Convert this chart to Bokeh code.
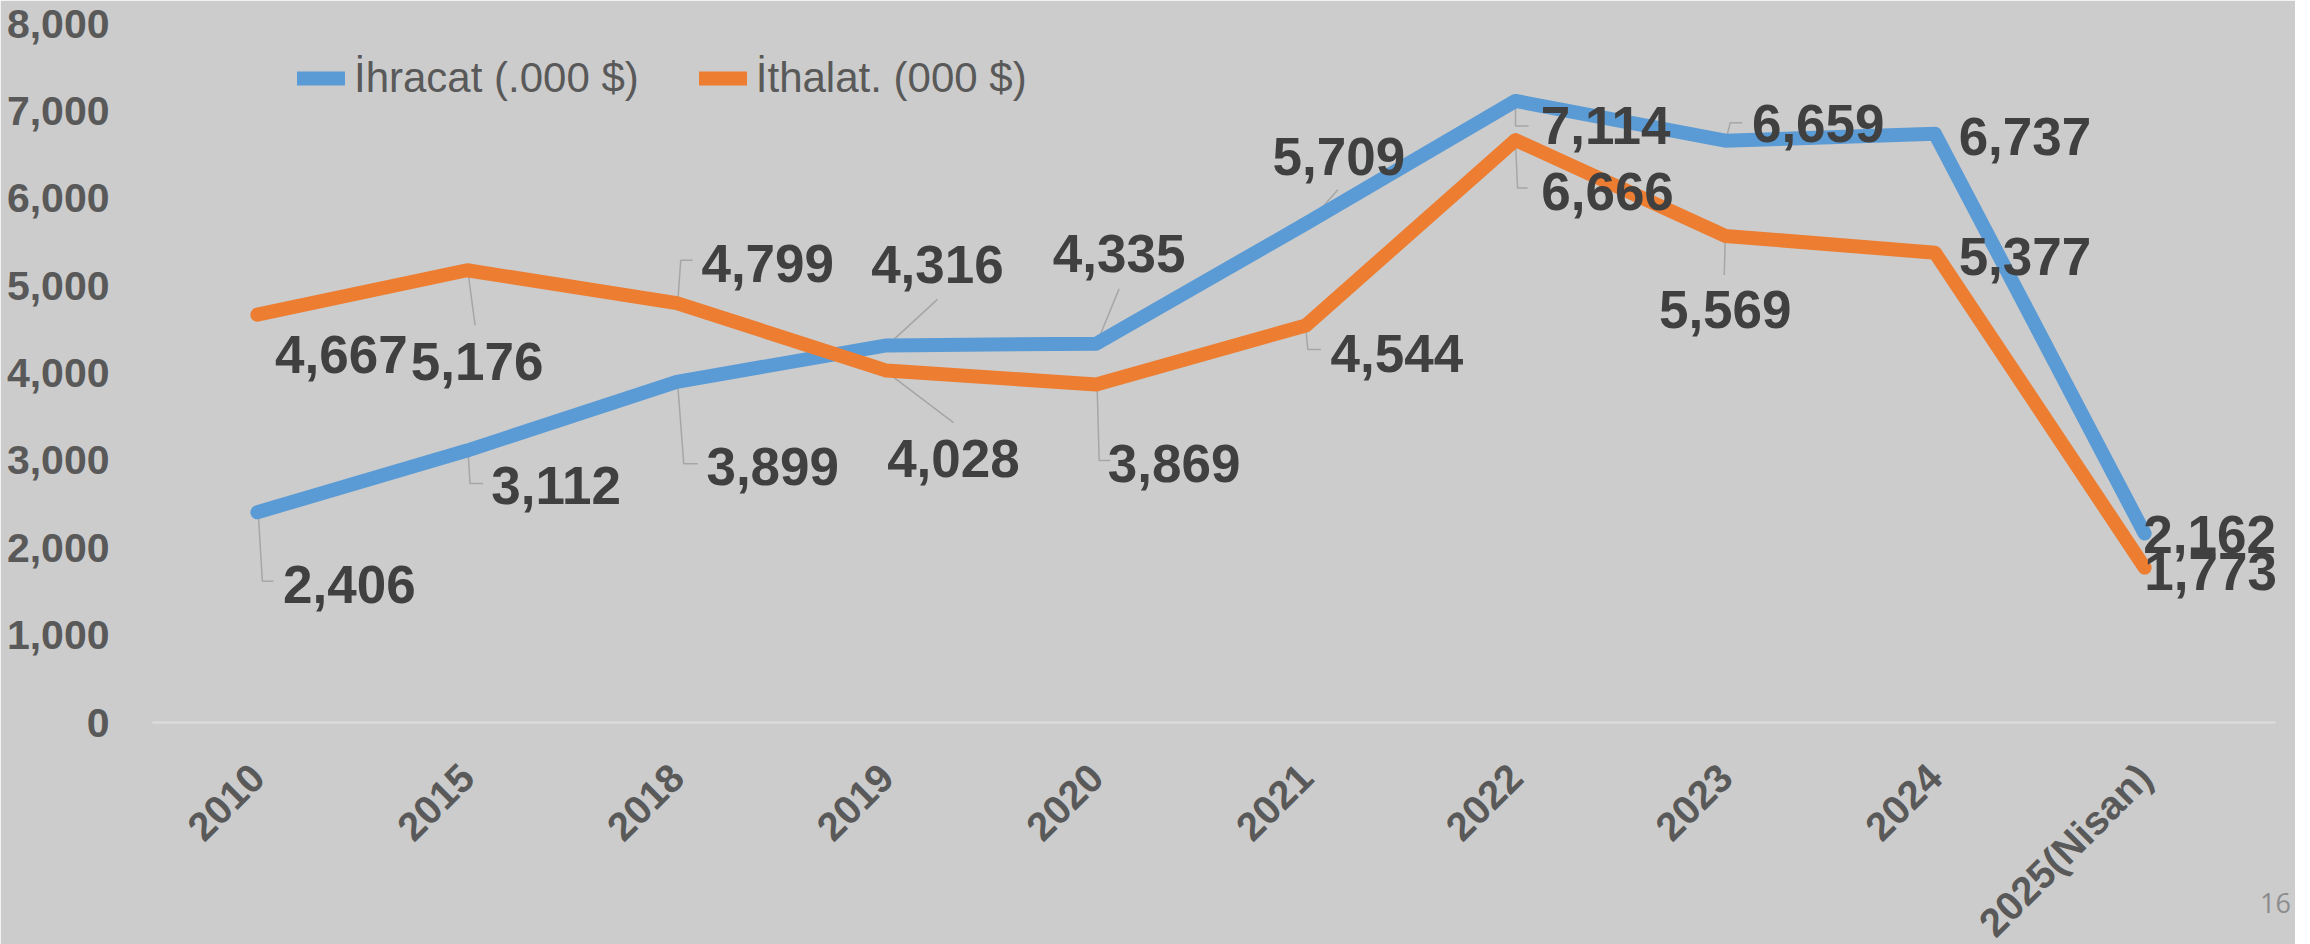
from bokeh.plotting import figure
from bokeh.models import (Range1d, FixedTicker, NumeralTickFormatter, ColumnDataSource,
                          LabelSet, Legend, LegendItem, LinearAxis)
from bokeh.core.properties import value
from bokeh.embed import file_html
from bokeh.resources import INLINE
from math import pi

# ---------------- data ----------------
categories = ["2010", "2015", "2018", "2019", "2020", "2021", "2022", "2023", "2024", "2025(Nisan)"]
ihracat = [2406, 3112, 3899, 4316, 4335, 5709, 7114, 6659, 6737, 2162]
ithalat = [4667, 5176, 4799, 4028, 3869, 4544, 6666, 5569, 5377, 1773]
series_names = ["İhracat (.000 $)", "İthalat. (000 $)"]
y_ticks = [0, 1000, 2000, 3000, 4000, 5000, 6000, 7000, 8000]
page_number = "16"

# ---------------- styles / label placement (pixels, +dy = downwards) ----------------
BLUE = "#5B9BD5"
ORANGE = "#ED7D31"
BG = "#cccccc"
FRAME_W, FRAME_H = 2123, 699
X_START, X_END = -0.5, 9.624
Y_MAX = 8000

blue_lbl_off = [(92, 72), (89, 35), (96, 85), (51, -81), (23, -90), (33, -67),
                (90, 25), (93, -17), (90, 3), (65, 1)]
orange_lbl_off = [(84, 40), (10, 91), (91, -40), (67, 88), (78, 79), (91, 28),
                  (92, 51), (0, 74), (90, 4), (66, 4)]
blue_leaders = [[(1, 2), (5, 69), (16, 69)], [(1, 1), (3, 33), (16, 33)],
                [(1, 3), (7, 82), (21, 82)], [(1, 0), (51, -46)], [(0, 1), (23, -55)],
                [(0, 2), (32, -34)], [(0, 2), (0, 25), (13, 25)],
                [(0, 2), (5, -18), (17, -18)], [], []]
orange_leaders = [[], [(1, 2), (8, 55)], [(1, -1), (4, -43), (16, -43)], [(1, 2), (67, 52)],
                  [(1, 3), (3, 76), (14, 76)], [(0, 4), (2, 24), (15, 24)],
                  [(0, 3), (2, 48), (12, 48)], [(0, 4), (-1, 39)], [], []]

p = figure(frame_width=FRAME_W, frame_height=FRAME_H,
           x_range=Range1d(X_START, X_END), y_range=Range1d(0, Y_MAX),
           x_axis_type=None,
           output_backend="svg", toolbar_location=None,
           min_border_left=152, min_border_right=20, min_border_top=23, min_border_bottom=222)
p.background_fill_color = BG
p.border_fill_color = BG
p.outline_line_color = BG
p.outline_line_width = 2
p.ygrid.visible = False

xs = list(range(len(categories)))
px_x = FRAME_W / (X_END - X_START)
px_y = FRAME_H / Y_MAX


def leader_lines(values, leaders):
    lx, ly = [], []
    for i, (v, segs) in enumerate(zip(values, leaders)):
        if not segs:
            continue
        lx.append([i] + [i + dx / px_x for dx, dy in segs])
        ly.append([v] + [v - dy / px_y for dx, dy in segs])
    return lx, ly


for vals, leads in ((ihracat, blue_leaders), (ithalat, orange_leaders)):
    lx, ly = leader_lines(vals, leads)
    p.multi_line(lx, ly, line_color="#a6a6a6", line_width=1.5)

r_blue = p.line(xs, ihracat, line_color=BLUE, line_width=14,
                line_cap="round", line_join="round")
r_orange = p.line(xs, ithalat, line_color=ORANGE, line_width=14,
                  line_cap="round", line_join="round")

for vals, offs in ((ihracat, blue_lbl_off), (ithalat, orange_lbl_off)):
    src = ColumnDataSource(dict(x=xs, y=vals, t=[f"{v:,}" for v in vals],
                                dx=[o[0] for o in offs], dy=[-o[1] for o in offs]))
    p.add_layout(LabelSet(x="x", y="y", text="t", source=src, x_offset="dx", y_offset="dy",
                          text_align="center", text_baseline="middle",
                          text_font=value("Liberation Sans"), text_font_style="bold",
                          text_font_size="53px", text_color="#404040"))

# x axis (categories) with the slide page number as its axis label
xaxis = LinearAxis(ticker=FixedTicker(ticks=xs))
xaxis.major_label_overrides = {i: c for i, c in enumerate(categories)}
xaxis.major_label_orientation = pi / 4
xaxis.axis_line_color = "#dedede"
xaxis.axis_line_width = 2
xaxis.major_tick_line_color = None
xaxis.minor_tick_line_color = None
xaxis.major_label_standoff = 42
xaxis.major_label_text_font = "Liberation Sans"
xaxis.major_label_text_font_style = "bold"
xaxis.major_label_text_font_size = "40px"
xaxis.major_label_text_color = "#595959"
xaxis.axis_label = page_number
xaxis.axis_label_text_font = "Open Sans"
xaxis.axis_label_text_font_style = "normal"
xaxis.axis_label_text_font_size = "27px"
xaxis.axis_label_text_color = "#8c8c8c"
xaxis.axis_label_standoff = -70
if "axis_label_align" in LinearAxis.properties():
    for a in ("end", "right"):
        try:
            xaxis.axis_label_align = a
            break
        except Exception:
            pass
p.add_layout(xaxis, "below")

p.yaxis.ticker = FixedTicker(ticks=y_ticks)
p.yaxis.formatter = NumeralTickFormatter(format="0,0")
p.yaxis.axis_line_color = None
p.yaxis.major_tick_line_color = None
p.yaxis.minor_tick_line_color = None
p.yaxis.major_label_standoff = 37
p.yaxis.major_label_text_font = "Liberation Sans"
p.yaxis.major_label_text_font_style = "bold"
p.yaxis.major_label_text_font_size = "41px"
p.yaxis.major_label_text_color = "#595959"

legend = Legend(items=[LegendItem(label=series_names[0], renderers=[r_blue]),
                       LegendItem(label=series_names[1], renderers=[r_orange])],
                orientation="horizontal", location=(145, 620),
                padding=0, margin=0, spacing=60, label_standoff=9,
                glyph_width=48, glyph_height=46, label_height=46,
                label_text_font="Liberation Sans", label_text_font_size="42px",
                label_text_color="#595959", border_line_alpha=0, background_fill_alpha=0)
p.add_layout(legend)

html = file_html(p, INLINE, title="İhracat - İthalat")
html = html.replace("<body", '<body style="margin:0;background-color:#cccccc"', 1)
open("out.html", "w").write(html)
